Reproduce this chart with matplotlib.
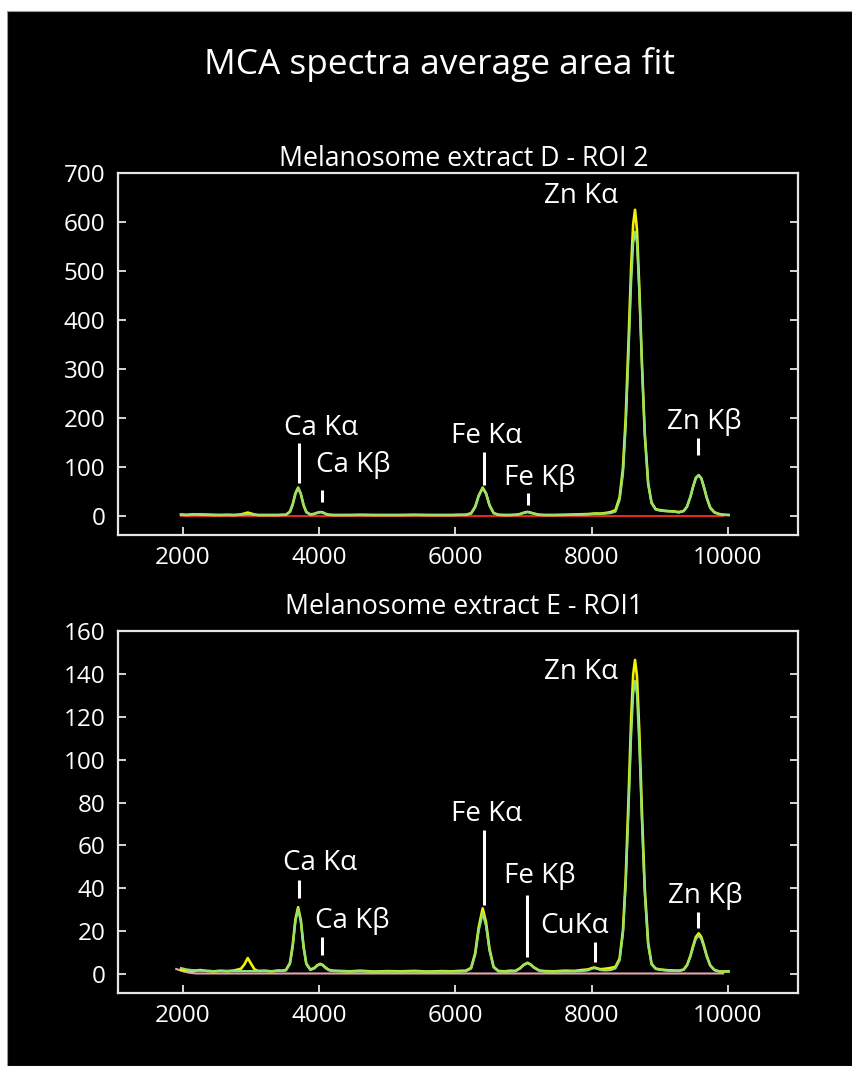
import matplotlib
matplotlib.use("Agg")
import matplotlib.pyplot as plt
from matplotlib.patches import Rectangle

plt.rcParams['font.family'] = ['Open Sans', 'DejaVu Sans']

# ---------------------------------------------------------------- data
# shared energy grid (eV) for the averaged spectra and their fits
energy_ev = [
    1970, 2050, 2150, 2250, 2350, 2450, 2550, 2650, 2750, 2850,
    2900, 2950, 3000, 3050, 3100, 3200, 3300, 3400, 3450, 3510,
    3570, 3610, 3650, 3690, 3730, 3770, 3810, 3870, 3930, 3970,
    4013, 4050, 4090, 4140, 4200, 4300, 4450, 4600, 4800, 5000,
    5200, 5400, 5600, 5800, 5950, 6050, 6150, 6230, 6290, 6340,
    6400, 6450, 6500, 6560, 6630, 6720, 6800, 6880, 6950, 7000,
    7058, 7100, 7150, 7230, 7320, 7450, 7600, 7750, 7850, 7950,
    8000, 8040, 8080, 8130, 8200, 8280, 8350, 8410, 8460, 8500,
    8540, 8580, 8610, 8637, 8665, 8700, 8740, 8780, 8830, 8880,
    8940, 9000, 9060, 9120, 9200, 9280, 9350, 9400, 9450, 9490,
    9530, 9572, 9610, 9650, 9690, 9740, 9800, 9870, 9940, 10010,
]

# Melanosome extract D - ROI 2
d_counts = [
    3, 2, 3.5, 3, 2.5, 2, 2, 2.5, 2, 3,
    5, 7, 5, 3, 2, 2, 2, 2, 2.5, 2.5,
    9, 24, 46, 58, 45, 22, 8, 3, 4.5, 6.5,
    8, 7.5, 4.5, 2.5, 2, 2, 2, 2.5, 2, 2,
    2, 2.5, 2, 2, 2, 2.5, 2.5, 5.5, 19, 41,
    58, 46, 22, 6, 2.5, 2, 2, 2.5, 4, 6.5,
    8.5, 7, 5, 2.5, 2, 2, 2.5, 3, 3.5, 4,
    4.5, 5, 5, 5, 6, 8, 12, 38, 98, 200,
    350, 508, 596, 625, 585, 465, 305, 168, 66, 27,
    14, 12, 11, 10, 9.5, 8, 10, 19, 39, 60,
    78, 83, 77, 58, 37, 17, 7.5, 4, 2.5, 2,
]
d_fit = [
    3, 2.5, 3, 4, 3, 2.5, 2, 2, 2, 2.5,
    3, 3.5, 3, 2.5, 2, 2, 2, 2, 2.2, 2.4,
    8, 22.5, 45, 57, 45, 22.5, 8.5, 3, 4.3, 6.6,
    8, 7, 4.6, 2.6, 2, 2, 2, 2, 2, 2,
    2, 2, 2, 2, 2, 2, 2.1, 5, 18, 40,
    57, 45, 22, 6, 2.3, 2, 2, 2.4, 4.1, 6.4,
    8, 7.1, 4.8, 2.4, 2, 2, 2, 2.5, 3, 3.5,
    4, 4.5, 4.5, 4.5, 5, 6, 9, 32, 86, 182,
    324, 476, 556, 580, 557, 456, 303, 166, 66, 26,
    13, 11, 10, 9.5, 9, 7, 10, 19, 39, 60,
    77, 84, 77, 59, 38, 18, 8, 4, 2.5, 2,
]
d_bg_ev = [1970, 9930]
d_bg = [0.8, 0.8]

# Melanosome extract E - ROI1
e_counts = [
    2.0, 1.8, 1.5, 1.9, 1.5, 1.3, 1.6, 1.4, 1.7, 2.5,
    4.5, 7.5, 4.8, 2.2, 1.5, 1.6, 1.3, 1.7, 1.6, 1.9,
    5.2, 13.5, 25.5, 31.2, 25.0, 12.8, 4.9, 2.1, 2.9, 4.1,
    4.8, 4.3, 3.1, 2.0, 1.6, 1.5, 1.3, 1.6, 1.2, 1.4,
    1.3, 1.5, 1.2, 1.4, 1.3, 1.5, 1.6, 2.9, 9.8, 21.6,
    30.7, 24.0, 11.8, 3.4, 1.5, 1.3, 1.6, 1.5, 2.8, 4.3,
    5.3, 4.6, 3.2, 1.7, 1.4, 1.3, 1.6, 1.5, 1.9, 2.2,
    2.8, 3.1, 2.7, 2.3, 2.5, 2.9, 3.4, 7.2, 20.5, 44.5,
    80.5, 119, 139.8, 146.5, 139, 113, 74, 40, 14.5, 4.8,
    2.6, 2.2, 2.0, 1.8, 1.7, 1.6, 2.1, 4.2, 8.5, 13.2,
    17.3, 19, 17.3, 13.2, 8.5, 4.2, 2.0, 1.3, 1.2, 1.3,
]
e_fit = [
    2.8, 2.2, 1.8, 1.6, 1.5, 1.4, 1.4, 1.4, 1.4, 1.4,
    1.4, 1.4, 1.4, 1.4, 1.4, 1.4, 1.4, 1.5, 1.5, 1.7,
    4.7, 12.5, 24.6, 30.5, 24.6, 12.5, 4.7, 1.9, 2.7, 3.9,
    4.6, 4.1, 2.9, 1.8, 1.5, 1.4, 1.3, 1.3, 1.2, 1.2,
    1.2, 1.2, 1.2, 1.2, 1.2, 1.2, 1.3, 2.6, 9.1, 20.0,
    28.4, 22.3, 11.0, 3.2, 1.3, 1.2, 1.2, 1.4, 2.6, 4.1,
    5.1, 4.5, 3.0, 1.5, 1.2, 1.2, 1.2, 1.3, 1.4, 1.8,
    2.5, 2.8, 2.5, 1.9, 1.7, 1.9, 2.7, 6.4, 19.1, 41.6,
    75, 111, 130.5, 136.7, 130.5, 106, 69.5, 37.4, 13.4, 4.5,
    2.4, 2.0, 1.8, 1.6, 1.5, 1.5, 2.0, 4.0, 8.1, 12.5,
    16.4, 18, 16.4, 12.5, 8.1, 4.0, 1.9, 1.3, 1.2, 1.2,
]
e_bg_ev = [1900, 2000, 2100, 2200, 9930]
e_bg = [2.4, 1.3, 0.6, 0.3, 0.3]

# peak labels: text, text x, text baseline y, marker x, marker y0, marker y1
d_labels = [
    ("Ca Kα", 4020, 165, 3700, 67, 149),
    ("Ca Kβ", 4500, 90, 4040, 29, 53),
    ("Fe Kα", 6460, 149, 6420, 63, 131),
    ("Fe Kβ", 7240, 63, 7060, 22, 47),
    ("Zn Kα", 7850, 639, None, None, None),
    ("Zn Kβ", 9660, 178, 9560, 124, 159),
]
e_labels = [
    ("Ca Kα", 4010, 48.4, 3710, 35.3, 43.7),
    ("Ca Kβ", 4485, 21.4, 4035, 8.8, 17.2),
    ("Fe Kα", 6455, 71.6, 6415, 32.1, 67.4),
    ("Fe Kβ", 7235, 42.3, 7050, 7.9, 36.7),
    ("CuKα", 7755, 19.1, 8050, 5.6, 14.9),
    ("Zn Kα", 7845, 137.7, None, None, None),
    ("Zn Kβ", 9665, 33.0, 9565, 21.4, 28.8),
]

x_ticks = [2000, 4000, 6000, 8000, 10000]
d_yticks = [0, 100, 200, 300, 400, 500, 600, 700]
e_yticks = [0, 20, 40, 60, 80, 100, 120, 140, 160]

# ---------------------------------------------------------------- figure
W, H = 853, 1066
fig = plt.figure(figsize=(W / 100, H / 100), dpi=100, facecolor='white')
fig.add_artist(Rectangle((7 / W, 0), 1, 1 - 11 / H, transform=fig.transFigure,
                         facecolor='black', edgecolor='#9a9a9a', lw=0.8, zorder=-10))

FG = '#e6e6e6'
DATA_C = '#f2f200'
FIT_C = '#8fe07a'


def make_axes(top_px, bottom_px):
    ax = fig.add_axes([118 / W, 1 - bottom_px / H, 680 / W, (bottom_px - top_px) / H])
    ax.set_facecolor('black')
    for s in ax.spines.values():
        s.set_color(FG)
        s.set_linewidth(1.6)
    ax.tick_params(axis='both', direction='in', color=FG, labelcolor='white',
                   labelsize=17.5, length=6, width=1.3, right=True, top=False)
    ax.tick_params(axis='y', pad=9)
    ax.tick_params(axis='x', pad=8)
    ax.set_xlim(1045, 11030)
    ax.set_xticks(x_ticks)
    return ax


def draw_panel(ax, counts, fit, bg_ev, bg, bg_color, labels):
    ax.plot(bg_ev, bg, color=bg_color, lw=1.5, zorder=2)
    ax.plot(energy_ev, counts, color=DATA_C, lw=1.9, zorder=3)
    ax.plot(energy_ev, fit, color=FIT_C, lw=1.6, zorder=4)
    for text, tx, ty, mx, my0, my1 in labels:
        ax.text(tx, ty, text, color='white', fontsize=20, ha='center', va='baseline', zorder=5)
        if mx is not None:
            ax.plot([mx, mx], [my0, my1], color='white', lw=2.2, solid_capstyle='butt', zorder=5)


ax1 = make_axes(173, 535)
ax1.set_ylim(-38.8, 700)
ax1.set_yticks(d_yticks)
draw_panel(ax1, d_counts, d_fit, d_bg_ev, d_bg, '#e02a1e', d_labels)

ax2 = make_axes(631, 993)
ax2.set_ylim(-8.8, 160)
ax2.set_yticks(e_yticks)
draw_panel(ax2, e_counts, e_fit, e_bg_ev, e_bg, '#e3a3b0', e_labels)

fig.text(440 / W, 1 - 74 / H, "MCA spectra average area fit", color='white',
         fontsize=25.4, ha='center', va='baseline')
fig.text(464 / W, 1 - 166 / H, "Melanosome extract D - ROI 2", color='white',
         fontsize=19.2, ha='center', va='baseline')
fig.text(464 / W, 1 - 614 / H, "Melanosome extract E - ROI1", color='white',
         fontsize=19.2, ha='center', va='baseline')

fig.savefig('out.png', dpi=100, facecolor=fig.get_facecolor())
